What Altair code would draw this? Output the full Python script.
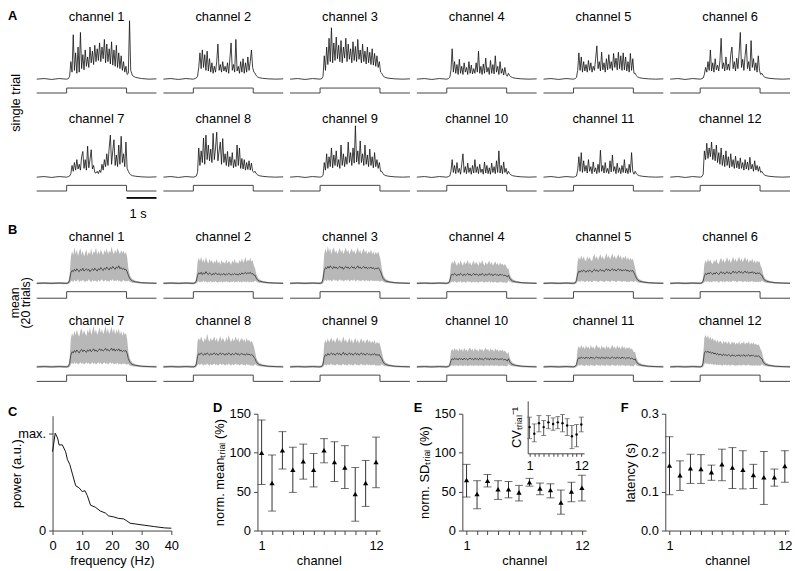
import altair as alt
import pandas as pd

FONT = "Liberation Sans"
W, H = 792, 563

CHANNELS = list(range(1, 13))

# ---------- time grid (s) ----------
T_PRE = [0.0, 0.25, 0.5, 0.75, 1.0, 1.06]
T_STIM = [1.10, 1.14, 1.18, 1.22, 1.26, 1.30, 1.34,
          1.38, 1.42, 1.46, 1.50, 1.54, 1.58, 1.62,
          1.66, 1.70, 1.74, 1.78, 1.82, 1.86, 1.90,
          1.94, 1.98, 2.02, 2.06, 2.10, 2.14, 2.18,
          2.22, 2.26, 2.30, 2.34, 2.38, 2.42, 2.46,
          2.50, 2.54, 2.58, 2.62, 2.66, 2.70, 2.74,
          2.78, 2.82, 2.86, 2.90, 2.94, 2.98, 3.02]
T_POST = [3.06, 3.10, 3.14, 3.2, 3.3, 3.5, 3.75, 4.0]

STIM_T = [0.0, 1.0, 3.0, 4.0]
STIM_ON = [0, 1, 0, 0]
SCALEBAR_S = [3.0, 4.0]

# ---------- A: single trials ----------
SINGLE_PRE = [0.0, 0.01, -0.005, 0.01, 0.0, 0.01]
SINGLE_POST = [0.10, 0.06, 0.04, 0.025, 0.015, 0.005, 0.0, 0.005]
SINGLE_POST_CH1 = [0.10, 1.0, 0.15, 0.06, 0.03, 0.01, 0.0, 0.005]

SINGLE_1 = [0.05, 0.30, 0.12, 0.76, 0.15, 0.45, 0.10,
            0.55, 0.12, 0.80, 0.18, 0.42, 0.16, 0.50,
            0.22, 0.38, 0.20, 0.55, 0.28, 0.48, 0.25,
            0.58, 0.30, 0.52, 0.32, 0.62, 0.30, 0.55,
            0.35, 0.68, 0.28, 0.60, 0.30, 0.52, 0.26,
            0.64, 0.24, 0.50, 0.22, 0.58, 0.20, 0.45,
            0.18, 0.40, 0.15, 0.30, 0.12, 0.22, 0.08]
SINGLE_2 = [0.02, 0.05, 0.20, 0.45, 0.18, 0.50, 0.20,
            0.42, 0.15, 0.48, 0.14, 0.35, 0.12, 0.28,
            0.10, 0.22, 0.12, 0.30, 0.60, 0.15, 0.25,
            0.12, 0.30, 0.14, 0.22, 0.12, 0.28, 0.10,
            0.35, 0.62, 0.15, 0.25, 0.12, 0.68, 0.14,
            0.22, 0.10, 0.30, 0.12, 0.35, 0.10, 0.28,
            0.12, 0.38, 0.15, 0.30, 0.50, 0.20, 0.12]
SINGLE_3 = [0.05, 0.40, 0.15, 0.55, 0.25, 0.70, 0.30,
            0.88, 0.28, 0.62, 0.32, 0.72, 0.35, 0.58,
            0.30, 0.66, 0.28, 0.55, 0.36, 0.70, 0.30,
            0.60, 0.34, 0.52, 0.28, 0.64, 0.32, 0.56,
            0.30, 0.68, 0.34, 0.50, 0.28, 0.60, 0.30,
            0.48, 0.26, 0.55, 0.28, 0.46, 0.25, 0.52,
            0.24, 0.44, 0.22, 0.40, 0.20, 0.30, 0.12]
SINGLE_4 = [0.03, 0.15, 0.52, 0.12, 0.30, 0.10, 0.25,
            0.08, 0.34, 0.10, 0.22, 0.08, 0.28, 0.12,
            0.20, 0.08, 0.30, 0.10, 0.24, 0.09, 0.18,
            0.10, 0.28, 0.12, 0.48, 0.10, 0.22, 0.08,
            0.26, 0.10, 0.36, 0.12, 0.20, 0.08, 0.32,
            0.10, 0.25, 0.09, 0.40, 0.12, 0.22, 0.08,
            0.30, 0.10, 0.18, 0.07, 0.20, 0.08, 0.05]
SINGLE_5 = [0.03, 0.15, 0.45, 0.15, 0.38, 0.12, 0.30,
            0.14, 0.25, 0.12, 0.32, 0.15, 0.28, 0.12,
            0.22, 0.15, 0.35, 0.57, 0.18, 0.30, 0.14,
            0.46, 0.16, 0.28, 0.12, 0.35, 0.16, 0.42,
            0.18, 0.30, 0.15, 0.44, 0.20, 0.36, 0.16,
            0.46, 0.18, 0.40, 0.15, 0.45, 0.16, 0.38,
            0.14, 0.30, 0.12, 0.44, 0.15, 0.35, 0.10]
SINGLE_6 = [0.02, 0.08, 0.20, 0.12, 0.30, 0.15, 0.50,
            0.14, 0.28, 0.12, 0.35, 0.16, 0.24, 0.14,
            0.32, 0.70, 0.18, 0.28, 0.14, 0.38, 0.16,
            0.26, 0.15, 0.42, 0.55, 0.18, 0.30, 0.14,
            0.36, 0.18, 0.45, 0.80, 0.20, 0.34, 0.15,
            0.40, 0.60, 0.18, 0.30, 0.14, 0.66, 0.20,
            0.35, 0.15, 0.28, 0.12, 0.40, 0.15, 0.08]
SINGLE_7 = [0.02, 0.06, 0.20, 0.10, 0.25, 0.12, 0.30,
            0.14, 0.22, 0.12, 0.35, 0.44, 0.15, 0.30,
            0.12, 0.53, 0.16, 0.30, 0.47, 0.14, 0.20,
            0.08, 0.07, 0.10, 0.06, 0.12, 0.08, 0.22,
            0.12, 0.30, 0.18, 0.40, 0.20, 0.50, 0.72,
            0.22, 0.45, 0.64, 0.20, 0.38, 0.18, 0.55,
            0.22, 0.70, 0.25, 0.40, 0.18, 0.60, 0.15]
SINGLE_8 = [0.02, 0.08, 0.50, 0.20, 0.45, 0.25, 0.67,
            0.22, 0.72, 0.30, 0.55, 0.28, 0.48, 0.25,
            0.75, 0.30, 0.50, 0.77, 0.28, 0.45, 0.60,
            0.22, 0.66, 0.25, 0.40, 0.20, 0.44, 0.18,
            0.35, 0.20, 0.42, 0.16, 0.30, 0.18, 0.55,
            0.20, 0.50, 0.15, 0.32, 0.14, 0.30, 0.12,
            0.25, 0.13, 0.28, 0.12, 0.24, 0.10, 0.08]
SINGLE_9 = [0.03, 0.25, 0.12, 0.40, 0.15, 0.35, 0.18,
            0.50, 0.16, 0.38, 0.20, 0.45, 0.18, 0.30,
            0.15, 0.55, 0.20, 0.40, 0.18, 0.35, 0.22,
            0.60, 0.25, 0.42, 0.20, 0.50, 0.24, 0.88,
            0.26, 0.45, 0.22, 0.62, 0.25, 0.40, 0.20,
            0.55, 0.22, 0.38, 0.18, 0.48, 0.20, 0.35,
            0.16, 0.42, 0.18, 0.30, 0.15, 0.25, 0.10]
SINGLE_10 = [0.02, 0.10, 0.30, 0.08, 0.20, 0.06, 0.25,
             0.08, 0.15, 0.05, 0.22, 0.40, 0.08, 0.18,
             0.06, 0.24, 0.08, 0.16, 0.05, 0.20, 0.07,
             0.30, 0.08, 0.18, 0.06, 0.22, 0.08, 0.14,
             0.05, 0.26, 0.07, 0.20, 0.06, 0.16, 0.05,
             0.24, 0.08, 0.18, 0.06, 0.28, 0.08, 0.45,
             0.07, 0.20, 0.06, 0.26, 0.08, 0.15, 0.05]
SINGLE_11 = [0.02, 0.12, 0.35, 0.10, 0.42, 0.08, 0.28,
             0.10, 0.20, 0.07, 0.30, 0.10, 0.18, 0.06,
             0.26, 0.09, 0.16, 0.06, 0.22, 0.08, 0.46,
             0.10, 0.20, 0.07, 0.25, 0.08, 0.15, 0.06,
             0.28, 0.09, 0.38, 0.10, 0.18, 0.06, 0.24,
             0.08, 0.16, 0.06, 0.20, 0.08, 0.30, 0.07,
             0.15, 0.06, 0.22, 0.08, 0.42, 0.10, 0.05]
SINGLE_12 = [0.05, 0.45, 0.30, 0.58, 0.32, 0.50, 0.35,
             0.60, 0.30, 0.48, 0.28, 0.55, 0.25, 0.42,
             0.22, 0.50, 0.20, 0.38, 0.18, 0.45, 0.20,
             0.35, 0.16, 0.40, 0.18, 0.30, 0.15, 0.36,
             0.16, 0.28, 0.14, 0.33, 0.15, 0.25, 0.12,
             0.30, 0.14, 0.26, 0.12, 0.34, 0.14, 0.22,
             0.10, 0.28, 0.12, 0.20, 0.10, 0.18, 0.08]

# ---------- B: mean of 20 trials with spread ----------
MEAN_PRE = [0.0, 0.005, 0.0, 0.005, 0.0, 0.01]
HI_PRE = [0.02, 0.025, 0.02, 0.025, 0.02, 0.03]
LO_PRE = [-0.015, -0.01, -0.015, -0.01, -0.015, -0.01]
MEAN_POST = [0.14, 0.09, 0.06, 0.04, 0.025, 0.012, 0.005, 0.0]
HI_POST = [0.26, 0.16, 0.11, 0.07, 0.045, 0.025, 0.02, 0.02]
LO_POST = [0.05, 0.03, 0.02, 0.01, 0.005, -0.005, -0.01, -0.01]

MEAN_1 = [0.06, 0.18, 0.22, 0.20, 0.24, 0.21, 0.25,
          0.22, 0.20, 0.24, 0.22, 0.26, 0.21, 0.23,
          0.25, 0.22, 0.24, 0.20, 0.23, 0.25, 0.22,
          0.26, 0.23, 0.21, 0.25, 0.23, 0.27, 0.24,
          0.22, 0.26, 0.24, 0.28, 0.25, 0.23, 0.27,
          0.25, 0.29, 0.26, 0.24, 0.28, 0.26, 0.30,
          0.25, 0.27, 0.24, 0.26, 0.23, 0.24, 0.20]
HI_1 = [0.15, 0.45, 0.55, 0.48, 0.62, 0.50, 0.58,
        0.47, 0.55, 0.60, 0.49, 0.56, 0.46, 0.52,
        0.58, 0.47, 0.54, 0.50, 0.60, 0.48, 0.55,
        0.52, 0.62, 0.49, 0.56, 0.50, 0.58, 0.53,
        0.48, 0.57, 0.52, 0.60, 0.50, 0.56, 0.52,
        0.63, 0.54, 0.50, 0.58, 0.52, 0.60, 0.55,
        0.50, 0.57, 0.52, 0.56, 0.50, 0.54, 0.45]
LO_1 = [0.00, 0.03, 0.05, 0.02, 0.06, 0.03, 0.04,
        0.07, 0.02, 0.05, 0.03, 0.06, 0.04, 0.02,
        0.05, 0.03, 0.07, 0.04, 0.02, 0.06, 0.03,
        0.05, 0.04, 0.02, 0.06, 0.03, 0.05, 0.07,
        0.03, 0.04, 0.06, 0.03, 0.05, 0.02, 0.06,
        0.04, 0.07, 0.03, 0.05, 0.04, 0.06, 0.03,
        0.05, 0.02, 0.04, 0.06, 0.03, 0.04, 0.03]
MEAN_2 = [0.04, 0.14, 0.18, 0.16, 0.19, 0.15, 0.18,
          0.16, 0.20, 0.17, 0.15, 0.18, 0.16, 0.14,
          0.17, 0.15, 0.18, 0.16, 0.15, 0.17, 0.14,
          0.16, 0.15, 0.17, 0.14, 0.16, 0.15, 0.17,
          0.16, 0.14, 0.16, 0.15, 0.17, 0.15, 0.16,
          0.14, 0.17, 0.15, 0.18, 0.16, 0.17, 0.19,
          0.16, 0.18, 0.17, 0.19, 0.16, 0.17, 0.14]
HI_2 = [0.10, 0.36, 0.44, 0.38, 0.46, 0.36, 0.42,
        0.35, 0.45, 0.38, 0.34, 0.42, 0.36, 0.40,
        0.33, 0.39, 0.35, 0.42, 0.34, 0.38, 0.32,
        0.40, 0.35, 0.37, 0.33, 0.41, 0.34, 0.38,
        0.36, 0.32, 0.39, 0.35, 0.42, 0.34, 0.37,
        0.33, 0.40, 0.36, 0.43, 0.35, 0.39, 0.45,
        0.36, 0.41, 0.38, 0.44, 0.37, 0.40, 0.30]
LO_2 = [0.00, 0.02, 0.04, 0.01, 0.03, 0.02, 0.05,
        0.02, 0.04, 0.01, 0.03, 0.02, 0.04, 0.01,
        0.03, 0.02, 0.04, 0.02, 0.01, 0.03, 0.02,
        0.04, 0.01, 0.03, 0.02, 0.04, 0.02, 0.03,
        0.01, 0.03, 0.02, 0.04, 0.01, 0.03, 0.02,
        0.04, 0.02, 0.03, 0.01, 0.04, 0.02, 0.03,
        0.02, 0.04, 0.01, 0.03, 0.02, 0.03, 0.02]
MEAN_3 = [0.08, 0.22, 0.27, 0.25, 0.29, 0.26, 0.30,
          0.27, 0.25, 0.29, 0.26, 0.28, 0.25, 0.27,
          0.29, 0.26, 0.28, 0.24, 0.27, 0.29, 0.26,
          0.28, 0.25, 0.27, 0.29, 0.26, 0.28, 0.25,
          0.27, 0.30, 0.26, 0.28, 0.25, 0.27, 0.29,
          0.26, 0.28, 0.25, 0.27, 0.26, 0.28, 0.25,
          0.27, 0.24, 0.26, 0.25, 0.27, 0.24, 0.20]
HI_3 = [0.18, 0.50, 0.60, 0.52, 0.64, 0.54, 0.60,
        0.50, 0.58, 0.62, 0.52, 0.57, 0.50, 0.56,
        0.61, 0.52, 0.58, 0.50, 0.56, 0.62, 0.53,
        0.58, 0.50, 0.55, 0.60, 0.52, 0.57, 0.50,
        0.55, 0.62, 0.52, 0.58, 0.50, 0.56, 0.60,
        0.52, 0.57, 0.50, 0.55, 0.52, 0.58, 0.50,
        0.55, 0.49, 0.54, 0.50, 0.55, 0.48, 0.40]
LO_3 = [0.00, 0.04, 0.06, 0.03, 0.07, 0.04, 0.06,
        0.03, 0.05, 0.07, 0.04, 0.06, 0.03, 0.05,
        0.07, 0.04, 0.06, 0.03, 0.05, 0.06, 0.04,
        0.07, 0.03, 0.05, 0.06, 0.04, 0.07, 0.03,
        0.05, 0.06, 0.04, 0.05, 0.03, 0.06, 0.05,
        0.03, 0.06, 0.04, 0.05, 0.03, 0.06, 0.04,
        0.05, 0.03, 0.05, 0.04, 0.05, 0.03, 0.03]
MEAN_4 = [0.04, 0.13, 0.16, 0.14, 0.17, 0.15, 0.13,
          0.16, 0.14, 0.17, 0.15, 0.13, 0.16, 0.14,
          0.15, 0.17, 0.14, 0.16, 0.13, 0.15, 0.17,
          0.14, 0.16, 0.15, 0.13, 0.16, 0.14, 0.17,
          0.15, 0.13, 0.16, 0.14, 0.15, 0.17, 0.14,
          0.16, 0.13, 0.15, 0.16, 0.14, 0.15, 0.13,
          0.16, 0.14, 0.15, 0.13, 0.14, 0.13, 0.11]
HI_4 = [0.10, 0.32, 0.38, 0.33, 0.40, 0.34, 0.30,
        0.37, 0.32, 0.39, 0.34, 0.30, 0.38, 0.33,
        0.35, 0.40, 0.32, 0.37, 0.30, 0.35, 0.39,
        0.32, 0.37, 0.34, 0.30, 0.38, 0.33, 0.40,
        0.34, 0.30, 0.37, 0.32, 0.35, 0.39, 0.32,
        0.37, 0.30, 0.34, 0.38, 0.32, 0.35, 0.30,
        0.36, 0.32, 0.34, 0.30, 0.33, 0.30, 0.25]
LO_4 = [0.00, 0.02, 0.03, 0.01, 0.04, 0.02, 0.01,
        0.03, 0.02, 0.04, 0.01, 0.02, 0.03, 0.01,
        0.02, 0.04, 0.02, 0.03, 0.01, 0.02, 0.03,
        0.01, 0.03, 0.02, 0.01, 0.03, 0.02, 0.04,
        0.02, 0.01, 0.03, 0.02, 0.02, 0.04, 0.01,
        0.03, 0.01, 0.02, 0.03, 0.01, 0.02, 0.01,
        0.03, 0.02, 0.02, 0.01, 0.02, 0.01, 0.01]
MEAN_5 = [0.05, 0.16, 0.21, 0.19, 0.22, 0.20, 0.23,
          0.21, 0.19, 0.22, 0.20, 0.23, 0.21, 0.19,
          0.22, 0.24, 0.21, 0.23, 0.20, 0.22, 0.24,
          0.21, 0.23, 0.20, 0.22, 0.25, 0.22, 0.24,
          0.21, 0.23, 0.25, 0.22, 0.24, 0.21, 0.23,
          0.25, 0.22, 0.24, 0.21, 0.23, 0.22, 0.24,
          0.21, 0.23, 0.20, 0.22, 0.21, 0.22, 0.18]
HI_5 = [0.12, 0.38, 0.45, 0.40, 0.48, 0.41, 0.46,
        0.40, 0.38, 0.47, 0.41, 0.45, 0.40, 0.38,
        0.46, 0.50, 0.42, 0.47, 0.40, 0.45, 0.50,
        0.42, 0.47, 0.40, 0.45, 0.52, 0.43, 0.48,
        0.41, 0.46, 0.51, 0.43, 0.48, 0.41, 0.46,
        0.50, 0.43, 0.48, 0.40, 0.46, 0.42, 0.48,
        0.40, 0.45, 0.39, 0.44, 0.40, 0.42, 0.35]
LO_5 = [0.00, 0.03, 0.04, 0.02, 0.05, 0.03, 0.04,
        0.02, 0.03, 0.05, 0.02, 0.04, 0.03, 0.02,
        0.04, 0.05, 0.03, 0.04, 0.02, 0.03, 0.05,
        0.03, 0.04, 0.02, 0.03, 0.05, 0.03, 0.04,
        0.02, 0.04, 0.05, 0.03, 0.04, 0.02, 0.03,
        0.05, 0.03, 0.04, 0.02, 0.04, 0.03, 0.04,
        0.02, 0.03, 0.02, 0.04, 0.03, 0.03, 0.02]
MEAN_6 = [0.04, 0.13, 0.17, 0.15, 0.18, 0.16, 0.19,
          0.17, 0.15, 0.18, 0.16, 0.19, 0.17, 0.15,
          0.18, 0.20, 0.17, 0.19, 0.16, 0.18, 0.20,
          0.17, 0.19, 0.16, 0.18, 0.21, 0.18, 0.20,
          0.17, 0.19, 0.21, 0.18, 0.20, 0.17, 0.19,
          0.21, 0.18, 0.20, 0.17, 0.19, 0.18, 0.20,
          0.17, 0.19, 0.16, 0.18, 0.17, 0.18, 0.15]
HI_6 = [0.10, 0.33, 0.40, 0.35, 0.42, 0.36, 0.41,
        0.35, 0.33, 0.40, 0.36, 0.42, 0.35, 0.33,
        0.40, 0.44, 0.36, 0.42, 0.35, 0.39, 0.45,
        0.37, 0.42, 0.35, 0.40, 0.46, 0.38, 0.43,
        0.36, 0.41, 0.46, 0.38, 0.43, 0.36, 0.41,
        0.45, 0.38, 0.43, 0.35, 0.41, 0.37, 0.43,
        0.35, 0.40, 0.34, 0.39, 0.36, 0.38, 0.30]
LO_6 = [0.00, 0.02, 0.04, 0.02, 0.04, 0.02, 0.03,
        0.02, 0.03, 0.04, 0.02, 0.04, 0.03, 0.01,
        0.03, 0.04, 0.02, 0.04, 0.02, 0.03, 0.04,
        0.02, 0.04, 0.02, 0.03, 0.05, 0.03, 0.04,
        0.02, 0.03, 0.04, 0.03, 0.04, 0.02, 0.03,
        0.04, 0.02, 0.04, 0.02, 0.03, 0.03, 0.04,
        0.02, 0.03, 0.02, 0.03, 0.02, 0.03, 0.02]
MEAN_7 = [0.06, 0.20, 0.26, 0.24, 0.28, 0.25, 0.29,
          0.26, 0.24, 0.28, 0.30, 0.26, 0.29, 0.27,
          0.25, 0.29, 0.27, 0.30, 0.26, 0.28, 0.31,
          0.27, 0.29, 0.26, 0.28, 0.31, 0.28, 0.30,
          0.27, 0.29, 0.32, 0.28, 0.30, 0.27, 0.29,
          0.32, 0.28, 0.31, 0.27, 0.30, 0.28, 0.31,
          0.27, 0.29, 0.26, 0.28, 0.27, 0.28, 0.23]
HI_7 = [0.16, 0.48, 0.58, 0.52, 0.62, 0.54, 0.64,
        0.56, 0.52, 0.62, 0.66, 0.55, 0.63, 0.57,
        0.53, 0.64, 0.58, 0.68, 0.55, 0.62, 0.70,
        0.58, 0.64, 0.55, 0.60, 0.68, 0.58, 0.65,
        0.56, 0.62, 0.70, 0.58, 0.66, 0.56, 0.62,
        0.69, 0.58, 0.66, 0.55, 0.64, 0.58, 0.66,
        0.55, 0.62, 0.53, 0.60, 0.55, 0.58, 0.48]
LO_7 = [0.00, 0.04, 0.07, 0.04, 0.08, 0.05, 0.07,
        0.04, 0.06, 0.08, 0.05, 0.07, 0.04, 0.06,
        0.08, 0.05, 0.07, 0.04, 0.06, 0.08, 0.05,
        0.07, 0.04, 0.06, 0.08, 0.05, 0.07, 0.04,
        0.06, 0.08, 0.05, 0.07, 0.04, 0.06, 0.08,
        0.05, 0.07, 0.04, 0.06, 0.05, 0.07, 0.04,
        0.06, 0.04, 0.06, 0.05, 0.06, 0.04, 0.04]
MEAN_8 = [0.05, 0.18, 0.23, 0.21, 0.24, 0.22, 0.20,
          0.23, 0.21, 0.24, 0.22, 0.20, 0.23, 0.21,
          0.22, 0.24, 0.21, 0.23, 0.20, 0.22, 0.24,
          0.21, 0.23, 0.22, 0.20, 0.23, 0.21, 0.24,
          0.22, 0.20, 0.23, 0.21, 0.22, 0.24, 0.21,
          0.23, 0.20, 0.22, 0.23, 0.21, 0.22, 0.20,
          0.23, 0.21, 0.22, 0.20, 0.21, 0.20, 0.17]
HI_8 = [0.12, 0.44, 0.50, 0.45, 0.52, 0.46, 0.42,
        0.50, 0.45, 0.57, 0.47, 0.43, 0.50, 0.45,
        0.47, 0.52, 0.44, 0.50, 0.42, 0.47, 0.53,
        0.44, 0.50, 0.46, 0.42, 0.51, 0.45, 0.55,
        0.47, 0.42, 0.50, 0.44, 0.47, 0.52, 0.44,
        0.50, 0.42, 0.47, 0.50, 0.44, 0.48, 0.42,
        0.50, 0.44, 0.47, 0.42, 0.45, 0.41, 0.35]
LO_8 = [0.00, 0.03, 0.05, 0.03, 0.06, 0.04, 0.02,
        0.05, 0.03, 0.06, 0.04, 0.02, 0.05, 0.03,
        0.04, 0.06, 0.03, 0.05, 0.02, 0.04, 0.06,
        0.03, 0.05, 0.04, 0.02, 0.05, 0.03, 0.06,
        0.04, 0.02, 0.05, 0.03, 0.04, 0.06, 0.03,
        0.05, 0.02, 0.04, 0.05, 0.03, 0.04, 0.02,
        0.05, 0.03, 0.04, 0.02, 0.03, 0.02, 0.02]
MEAN_9 = [0.05, 0.17, 0.21, 0.19, 0.23, 0.20, 0.22,
          0.24, 0.21, 0.23, 0.20, 0.22, 0.24, 0.21,
          0.23, 0.20, 0.22, 0.25, 0.21, 0.23, 0.20,
          0.22, 0.24, 0.21, 0.23, 0.20, 0.22, 0.24,
          0.21, 0.23, 0.20, 0.22, 0.24, 0.21, 0.23,
          0.20, 0.22, 0.23, 0.21, 0.22, 0.20, 0.22,
          0.21, 0.23, 0.20, 0.21, 0.20, 0.21, 0.17]
HI_9 = [0.12, 0.40, 0.46, 0.41, 0.49, 0.42, 0.46,
        0.50, 0.43, 0.48, 0.41, 0.46, 0.51, 0.43,
        0.48, 0.41, 0.46, 0.52, 0.43, 0.48, 0.41,
        0.45, 0.50, 0.42, 0.48, 0.40, 0.45, 0.50,
        0.42, 0.47, 0.40, 0.45, 0.49, 0.42, 0.47,
        0.40, 0.45, 0.48, 0.42, 0.46, 0.40, 0.45,
        0.41, 0.46, 0.39, 0.43, 0.40, 0.42, 0.34]
LO_9 = [0.00, 0.03, 0.04, 0.02, 0.05, 0.03, 0.04,
        0.05, 0.03, 0.04, 0.02, 0.04, 0.05, 0.03,
        0.04, 0.02, 0.04, 0.05, 0.03, 0.04, 0.02,
        0.04, 0.05, 0.03, 0.04, 0.02, 0.04, 0.05,
        0.03, 0.04, 0.02, 0.04, 0.05, 0.03, 0.04,
        0.02, 0.04, 0.04, 0.03, 0.04, 0.02, 0.04,
        0.03, 0.04, 0.02, 0.03, 0.02, 0.03, 0.02]
MEAN_10 = [0.03, 0.11, 0.14, 0.12, 0.15, 0.13, 0.14,
           0.12, 0.15, 0.13, 0.14, 0.12, 0.15, 0.13,
           0.14, 0.12, 0.14, 0.15, 0.13, 0.14, 0.12,
           0.15, 0.13, 0.14, 0.12, 0.15, 0.13, 0.14,
           0.12, 0.14, 0.15, 0.13, 0.14, 0.12, 0.15,
           0.13, 0.14, 0.12, 0.15, 0.13, 0.14, 0.12,
           0.14, 0.13, 0.14, 0.12, 0.13, 0.12, 0.10]
HI_10 = [0.08, 0.27, 0.31, 0.27, 0.33, 0.28, 0.31,
         0.26, 0.32, 0.28, 0.31, 0.26, 0.33, 0.28,
         0.30, 0.26, 0.31, 0.33, 0.28, 0.31, 0.26,
         0.33, 0.28, 0.30, 0.26, 0.32, 0.28, 0.31,
         0.26, 0.30, 0.33, 0.28, 0.31, 0.26, 0.32,
         0.28, 0.30, 0.26, 0.32, 0.28, 0.30, 0.26,
         0.30, 0.27, 0.30, 0.26, 0.28, 0.25, 0.22]
LO_10 = [0.00, 0.02, 0.03, 0.01, 0.03, 0.02, 0.03,
         0.01, 0.03, 0.02, 0.03, 0.01, 0.03, 0.02,
         0.03, 0.01, 0.02, 0.03, 0.02, 0.03, 0.01,
         0.03, 0.02, 0.03, 0.01, 0.03, 0.02, 0.03,
         0.01, 0.02, 0.03, 0.02, 0.03, 0.01, 0.03,
         0.02, 0.03, 0.01, 0.03, 0.02, 0.03, 0.01,
         0.02, 0.02, 0.03, 0.01, 0.02, 0.01, 0.01]
MEAN_11 = [0.04, 0.13, 0.16, 0.14, 0.17, 0.15, 0.16,
           0.14, 0.17, 0.15, 0.16, 0.14, 0.17, 0.15,
           0.16, 0.14, 0.16, 0.17, 0.15, 0.16, 0.14,
           0.17, 0.15, 0.16, 0.14, 0.17, 0.15, 0.16,
           0.14, 0.16, 0.17, 0.15, 0.16, 0.14, 0.17,
           0.15, 0.16, 0.14, 0.17, 0.15, 0.16, 0.14,
           0.16, 0.15, 0.16, 0.14, 0.15, 0.14, 0.12]
HI_11 = [0.09, 0.31, 0.36, 0.31, 0.38, 0.32, 0.35,
         0.30, 0.37, 0.32, 0.35, 0.30, 0.38, 0.32,
         0.35, 0.30, 0.35, 0.38, 0.32, 0.35, 0.30,
         0.37, 0.32, 0.35, 0.30, 0.37, 0.32, 0.35,
         0.30, 0.34, 0.38, 0.32, 0.35, 0.30, 0.37,
         0.32, 0.35, 0.30, 0.37, 0.32, 0.35, 0.30,
         0.34, 0.31, 0.34, 0.30, 0.32, 0.29, 0.25]
LO_11 = [0.00, 0.02, 0.03, 0.02, 0.04, 0.02, 0.03,
         0.01, 0.04, 0.02, 0.03, 0.01, 0.04, 0.02,
         0.03, 0.01, 0.03, 0.04, 0.02, 0.03, 0.01,
         0.04, 0.02, 0.03, 0.01, 0.04, 0.02, 0.03,
         0.01, 0.03, 0.04, 0.02, 0.03, 0.01, 0.04,
         0.02, 0.03, 0.01, 0.04, 0.02, 0.03, 0.01,
         0.03, 0.02, 0.03, 0.01, 0.02, 0.01, 0.01]
MEAN_12 = [0.08, 0.24, 0.27, 0.25, 0.27, 0.24, 0.26,
           0.23, 0.25, 0.22, 0.24, 0.21, 0.23, 0.20,
           0.22, 0.21, 0.19, 0.22, 0.20, 0.21, 0.19,
           0.21, 0.20, 0.18, 0.21, 0.19, 0.20, 0.18,
           0.20, 0.19, 0.21, 0.18, 0.20, 0.19, 0.21,
           0.18, 0.20, 0.19, 0.21, 0.18, 0.20, 0.19,
           0.20, 0.18, 0.19, 0.18, 0.19, 0.18, 0.15]
HI_12 = [0.20, 0.50, 0.55, 0.49, 0.54, 0.47, 0.52,
         0.46, 0.50, 0.44, 0.48, 0.42, 0.47, 0.41,
         0.45, 0.43, 0.39, 0.45, 0.41, 0.44, 0.39,
         0.44, 0.41, 0.38, 0.44, 0.40, 0.43, 0.38,
         0.42, 0.39, 0.44, 0.38, 0.42, 0.40, 0.44,
         0.38, 0.42, 0.40, 0.44, 0.38, 0.42, 0.39,
         0.42, 0.38, 0.40, 0.37, 0.39, 0.36, 0.30]
LO_12 = [0.00, 0.05, 0.07, 0.05, 0.06, 0.04, 0.06,
         0.04, 0.05, 0.03, 0.05, 0.03, 0.04, 0.03,
         0.04, 0.03, 0.02, 0.04, 0.03, 0.04, 0.02,
         0.04, 0.03, 0.02, 0.04, 0.03, 0.03, 0.02,
         0.03, 0.02, 0.04, 0.02, 0.03, 0.03, 0.04,
         0.02, 0.03, 0.03, 0.04, 0.02, 0.03, 0.02,
         0.03, 0.02, 0.03, 0.02, 0.03, 0.02, 0.02]

# ---------- C: power spectrum ----------
FREQ_HZ = [0, 0.9, 1.7, 2.2, 3.3, 4.4, 5.0, 5.8, 6.7, 7.8, 8.9, 10.0, 10.9, 11.7,
           12.8, 14.4, 16.1, 17.8, 18.9, 20.6, 22.2, 23.9, 25.0, 26.1, 27.8, 31.1,
           34.4, 37.8, 40.0]
POWER = [0.81, 1.0, 0.95, 0.88, 0.88, 0.81, 0.73, 0.68, 0.58, 0.46, 0.44, 0.40, 0.41,
         0.36, 0.26, 0.24, 0.20, 0.18, 0.15, 0.14, 0.125, 0.12, 0.10, 0.075, 0.068,
         0.054, 0.04, 0.027, 0.024]

# ---------- D, E, F and inset ----------
D_MEAN = [100, 61, 103, 78, 89, 78, 103, 88, 81, 47, 61, 88]
D_LO = [59, 25, 79, 49, 66, 56, 87, 63, 54, 12, 31, 55]
D_HI = [142, 97, 127, 107, 111, 99, 118, 114, 109, 81, 90, 120]
E_MEAN = [65, 47, 64, 53, 53, 49, 62, 54, 52, 36, 50, 55]
E_LO = [43, 28, 56, 40, 42, 38, 57, 46, 42, 21, 37, 38]
E_HI = [85, 64, 72, 64, 63, 58, 67, 61, 60, 52, 62, 71]
F_MEAN = [0.167, 0.142, 0.160, 0.158, 0.150, 0.170, 0.162, 0.156, 0.143, 0.137, 0.137, 0.166]
F_LO = [0.092, 0.103, 0.121, 0.121, 0.129, 0.128, 0.108, 0.107, 0.108, 0.067, 0.114, 0.124]
F_HI = [0.241, 0.179, 0.196, 0.195, 0.168, 0.209, 0.213, 0.205, 0.170, 0.203, 0.158, 0.205]
CV_MEAN = [0.50, 0.375, 0.575, 0.50, 0.59, 0.56, 0.59, 0.575, 0.53, 0.325, 0.36, 0.55]
CV_LO = [0.28, 0.22, 0.41, 0.34, 0.47, 0.44, 0.47, 0.41, 0.34, 0.09, 0.125, 0.41]
CV_HI = [0.69, 0.56, 0.72, 0.625, 0.72, 0.675, 0.70, 0.74, 0.66, 0.53, 0.55, 0.69]

SINGLES = [SINGLE_1, SINGLE_2, SINGLE_3, SINGLE_4, SINGLE_5, SINGLE_6,
           SINGLE_7, SINGLE_8, SINGLE_9, SINGLE_10, SINGLE_11, SINGLE_12]
MEANS = [MEAN_1, MEAN_2, MEAN_3, MEAN_4, MEAN_5, MEAN_6,
         MEAN_7, MEAN_8, MEAN_9, MEAN_10, MEAN_11, MEAN_12]
HIS = [HI_1, HI_2, HI_3, HI_4, HI_5, HI_6, HI_7, HI_8, HI_9, HI_10, HI_11, HI_12]
LOS = [LO_1, LO_2, LO_3, LO_4, LO_5, LO_6, LO_7, LO_8, LO_9, LO_10, LO_11, LO_12]

# ---------- layout (pixels inside the plot area) ----------
PANEL_W = 121
COL_X = [29 + 128 * c for c in range(6)]
# baseline, top (value 1), stim-off level, stim-on level, title baseline
ROWS_A = [(69, 10, 83, 78, 10.5), (168, 109, 182, 176.3, 113)]
ROWS_B = [(275.3, 216.3, 290.3, 283.7, 232), (359.7, 300.7, 374.3, 368, 317)]

TRACE_COLOR = "#111111"
STEP_COLOR = "#444444"
BAND_COLOR = "#b8b8b8"


def lin(domain, rng):
    return alt.Scale(domain=domain, range=rng, nice=False, zero=False)


def text_at(s, x, y, **kw):
    return alt.Chart(pd.DataFrame({"s": [s]})).mark_text(font=FONT, **kw).encode(
        text="s:N", x=alt.value(x), y=alt.value(y))


layers = []
T_ALL = T_PRE + T_STIM + T_POST
stim_df = pd.DataFrame({"t": STIM_T, "s": STIM_ON})

for i, ch in enumerate(CHANNELS):
    row, col = divmod(i, 6)
    xl = COL_X[col]
    xsc = lin([0, 4], [xl, xl + PANEL_W])

    # ---- A: single trial ----
    base, top, s0, s1, ty = ROWS_A[row]
    post = SINGLE_POST_CH1 if ch == 1 else SINGLE_POST
    df = pd.DataFrame({"t": T_ALL, "v": SINGLE_PRE + SINGLES[i] + post})
    layers.append(alt.Chart(df).mark_line(color=TRACE_COLOR, strokeWidth=0.8).encode(
        x=alt.X("t:Q", scale=xsc, axis=None),
        y=alt.Y("v:Q", scale=lin([0, 1], [base, top]), axis=None)))
    layers.append(alt.Chart(stim_df).mark_line(interpolate="step-after", color=STEP_COLOR,
                                               strokeWidth=1).encode(
        x=alt.X("t:Q", scale=xsc, axis=None),
        y=alt.Y("s:Q", scale=lin([0, 1], [s0, s1]), axis=None)))
    layers.append(text_at(f"channel {ch}", xl + PANEL_W / 2, ty, fontSize=13,
                          align="center", baseline="alphabetic"))

    # ---- B: mean over 20 trials ----
    base, top, s0, s1, ty = ROWS_B[row]
    ysc = lin([0, 1], [base, top])
    dfb = pd.DataFrame({"t": T_ALL,
                        "m": MEAN_PRE + MEANS[i] + MEAN_POST,
                        "hi": HI_PRE + HIS[i] + HI_POST,
                        "lo": LO_PRE + LOS[i] + LO_POST})
    layers.append(alt.Chart(dfb).mark_area(color=BAND_COLOR, opacity=1).encode(
        x=alt.X("t:Q", scale=xsc, axis=None),
        y=alt.Y("hi:Q", scale=ysc, axis=None), y2="lo:Q"))
    layers.append(alt.Chart(dfb).mark_line(color="#333333", strokeWidth=0.8).encode(
        x=alt.X("t:Q", scale=xsc, axis=None),
        y=alt.Y("m:Q", scale=ysc, axis=None)))
    layers.append(alt.Chart(stim_df).mark_line(interpolate="step-after", color=STEP_COLOR,
                                               strokeWidth=1).encode(
        x=alt.X("t:Q", scale=xsc, axis=None),
        y=alt.Y("s:Q", scale=lin([0, 1], [s0, s1]), axis=None)))
    layers.append(text_at(f"channel {ch}", xl + PANEL_W / 2, ty, fontSize=13,
                          align="center", baseline="alphabetic"))

# scale bar (1 s) under channel 7 of panel A
sb_x = lin([0, 4], [COL_X[0], COL_X[0] + PANEL_W])
layers.append(alt.Chart(pd.DataFrame({"t0": [SCALEBAR_S[0]], "t1": [SCALEBAR_S[1]]}))
              .mark_rule(color="black", strokeWidth=1.8).encode(
    x=alt.X("t0:Q", scale=sb_x, axis=None), x2="t1:Q", y=alt.value(189)))
layers.append(text_at("1 s", 131.5, 205, fontSize=13, align="center"))

# ---------- axes helpers ----------
ONLY_ENDS = "datum.value == 1 || datum.value == 12 ? datum.label : ''"


def x_axis(offset, values, title, label_expr=None, tick=4, pad=5):
    kw = dict(orient="bottom", offset=offset, values=values, tickSize=tick,
              labelPadding=pad, titlePadding=2, grid=False, labelFlush=False,
              labelOverlap=False)
    if label_expr:
        kw["labelExpr"] = label_expr
    kw["title"] = title if title else None
    return alt.Axis(**kw)


def y_axis(offset, values, title, label_expr=None, fmt=None, tpad=3, title_x=None):
    kw = dict(orient="left", offset=offset, values=values, tickSize=4, labelPadding=3,
              titlePadding=tpad, grid=False, labelFlush=False, labelOverlap=False,
              title=title)
    if label_expr:
        kw["labelExpr"] = label_expr
    if fmt:
        kw["format"] = fmt
    if title_x is not None:
        kw["titleX"] = title_x
    return alt.Axis(**kw)


def errbars(mean, lo, hi, xsc, ysc, xax, yax, cap=8, color="#333333",
            shape="triangle-up", msize=28, mcolor="black"):
    df = pd.DataFrame({"ch": CHANNELS, "m": mean, "lo": lo, "hi": hi})
    caps = pd.DataFrame({"ch": CHANNELS + CHANNELS, "v": lo + hi})
    return [
        alt.Chart(df).mark_rule(color=color, strokeWidth=1).encode(
            x=alt.X("ch:Q", scale=xsc, axis=xax),
            y=alt.Y("lo:Q", scale=ysc, axis=yax), y2="hi:Q"),
        alt.Chart(caps).mark_tick(color=color, orient="horizontal", size=cap,
                                  thickness=1).encode(
            x=alt.X("ch:Q", scale=xsc, axis=None),
            y=alt.Y("v:Q", scale=ysc, axis=None)),
        alt.Chart(df).mark_point(shape=shape, filled=True, size=msize, color=mcolor,
                                 opacity=1).encode(
            x=alt.X("ch:Q", scale=xsc, axis=None),
            y=alt.Y("m:Q", scale=ysc, axis=None)),
    ]


AX_Y = 525 - H  # bottom-axis offset for C-F

# ---------- C ----------
layers.append(alt.Chart(pd.DataFrame({"f": FREQ_HZ, "p": POWER}))
              .mark_line(color=TRACE_COLOR, strokeWidth=1).encode(
    x=alt.X("f:Q", scale=lin([0, 40], [45, 165]),
            axis=x_axis(AX_Y, [0, 10, 20, 30, 40], "frequency (Hz)")),
    y=alt.Y("p:Q", scale=lin([0, 1.18], [525, 409]),
            axis=y_axis(-45, [0, 1], "power (a.u.)",
                        label_expr="datum.value == 0 ? '0' : 'max.'", title_x=-29))))

# ---------- D ----------
layers += errbars(D_MEAN, D_LO, D_HI, lin([0.6, 12.4], [252, 376]), lin([0, 150], [525, 407]),
                  x_axis(AX_Y, CHANNELS, "channel", ONLY_ENDS),
                  y_axis(-252, [0, 50, 100, 150], "norm. meanₜᵣᵢₐₗ (%)"))

# ---------- E ----------
layers += errbars(E_MEAN, E_LO, E_HI, lin([0.6, 12.4], [459, 584]), lin([0, 150], [525, 407]),
                  x_axis(AX_Y, CHANNELS, "channel", ONLY_ENDS),
                  y_axis(-459, [0, 50, 100, 150], "norm. SDₜᵣᵢₐₗ (%)"))

# inset of E
inset_y_axis = alt.Axis(orient="left", offset=-525, ticks=False, labels=False, grid=False,
                        title="CVₜᵣᵢₐₗ⁻¹", titlePadding=4)
layers += errbars(CV_MEAN, CV_LO, CV_HI, lin([0.6, 12.6], [525, 582]), lin([0, 1], [447, 394]),
                  x_axis(447 - H, CHANNELS, None, ONLY_ENDS, tick=3, pad=3),
                  inset_y_axis, cap=5, color="#555555", shape="circle", msize=6)

# ---------- F ----------
layers += errbars(F_MEAN, F_LO, F_HI, lin([0.6, 12.4], [664, 789]), lin([0, 0.3], [525, 407]),
                  x_axis(AX_Y, CHANNELS, "channel", ONLY_ENDS),
                  y_axis(-664, [0, 0.1, 0.2, 0.3], "latency (s)", fmt=".1f"))

# ---------- panel letters and row labels ----------
for letter, x, y in [("A", 0, 9.5), ("B", 0, 225), ("C", 0, 409),
                     ("D", 207, 405), ("E", 410, 405), ("F", 619, 405)]:
    layers.append(text_at(letter, x, y, fontSize=13, fontWeight="bold", align="left",
                          baseline="alphabetic"))
layers.append(text_at("single trial", 12, 93, fontSize=13, angle=270, align="center",
                      baseline="alphabetic"))
layers.append(text_at("mean\n(20 trials)", 11, 295, fontSize=12.5, angle=270, align="center",
                      baseline="alphabetic", lineBreak="\n", lineHeight=11.5))

chart = (alt.layer(*layers)
         .resolve_scale(x="independent", y="independent")
         .resolve_axis(x="independent", y="independent")
         .properties(width=W, height=H, padding=0,
                     autosize=alt.AutoSizeParams(type="none"))
         .configure_view(strokeWidth=0)
         .configure_axis(labelFont=FONT, titleFont=FONT, labelFontSize=13, titleFontSize=13,
                         titleFontWeight="normal", labelColor="black", titleColor="black",
                         domainColor="#444444", tickColor="#444444", domainWidth=1,
                         tickWidth=1))

chart.save("out.html", embed_options={"renderer": "svg", "actions": False})
